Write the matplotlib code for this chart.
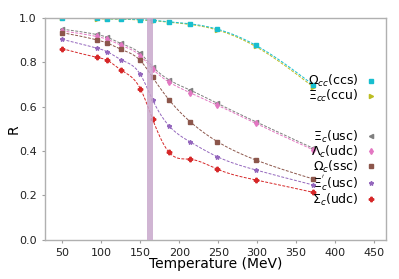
import numpy as np
import matplotlib
matplotlib.use("Agg")
import matplotlib.pyplot as plt
from matplotlib.lines import Line2D

# ---- data ----
temperature = [50, 94, 108, 125, 150, 166, 187, 214, 249, 298, 372]
omega_cc = [0.998, 0.996, 0.995, 0.994, 0.991, 0.988, 0.981, 0.972, 0.948, 0.876, 0.697]
xi_cc    = [0.997, 0.995, 0.994, 0.993, 0.989, 0.986, 0.979, 0.969, 0.944, 0.870, 0.688]
xi_c     = [0.948, 0.924, 0.911, 0.884, 0.839, 0.779, 0.720, 0.674, 0.614, 0.532, 0.412]
lambda_c = [0.940, 0.915, 0.902, 0.876, 0.829, 0.769, 0.710, 0.662, 0.606, 0.524, 0.405]
omega_c  = [0.932, 0.900, 0.885, 0.858, 0.807, 0.731, 0.630, 0.532, 0.442, 0.360, 0.274]
xip_c    = [0.902, 0.863, 0.846, 0.811, 0.745, 0.629, 0.513, 0.441, 0.374, 0.315, 0.247]
sigma_c  = [0.860, 0.822, 0.807, 0.765, 0.681, 0.542, 0.394, 0.363, 0.318, 0.270, 0.214]
band = [159, 166]

labels1 = [r"$\Omega_{cc}$(ccs)", r"$\Xi_{cc}$(ccu)"]
labels2 = [r"$\Xi_c$(usc)", r"$\Lambda_c$(udc)", r"$\Omega_c$(ssc)",
           r"$\Xi^{'}_c$(usc)", r"$\Sigma_c$(udc)"]


def natural_spline(x, y, num=300):
    x = np.asarray(x, float); y = np.asarray(y, float)
    n = len(x)
    h = np.diff(x)
    A = np.zeros((n, n)); b = np.zeros(n)
    A[0, 0] = 1; A[-1, -1] = 1
    for i in range(1, n - 1):
        A[i, i - 1] = h[i - 1]
        A[i, i] = 2 * (h[i - 1] + h[i])
        A[i, i + 1] = h[i]
        b[i] = 6 * ((y[i + 1] - y[i]) / h[i] - (y[i] - y[i - 1]) / h[i - 1])
    M = np.linalg.solve(A, b)
    xs = np.linspace(x[0], x[-1], num)
    idx = np.clip(np.searchsorted(x, xs) - 1, 0, n - 2)
    x0, x1 = x[idx], x[idx + 1]
    hh = x1 - x0
    t0 = x1 - xs; t1 = xs - x0
    ys = (M[idx] * t0**3 + M[idx + 1] * t1**3) / (6 * hh) \
        + (y[idx] / hh - M[idx] * hh / 6) * t0 \
        + (y[idx + 1] / hh - M[idx + 1] * hh / 6) * t1
    return xs, ys


fig = plt.figure(figsize=(3.99, 2.79), dpi=100)
ax = fig.add_axes([0.113, 0.140, 0.854, 0.797])

series = [
    (xi_cc, 'tab:olive', '>', 3.0),
    (omega_cc, 'tab:cyan', 's', 2.6),
    (xi_c, 'tab:gray', '<', 3.0),
    (lambda_c, 'tab:pink', 'd', 3.0),
    (omega_c, 'tab:brown', 's', 2.6),
    (xip_c, 'tab:purple', '*', 3.2),
    (sigma_c, 'tab:red', 'P', 3.2),
]
for vals, col, mk, ms in series:
    xs, ys = natural_spline(temperature, vals)
    ax.plot(xs, ys, color=col, ls='--', lw=0.7, dashes=(3, 1.5))
    ax.plot(temperature, vals, ls='none', marker=mk, color=col, ms=ms)

ax.axvspan(band[0], band[1], facecolor='#c8a8cc', alpha=0.85, hatch='||',
           edgecolor='#d05050', lw=0, zorder=3)

ax.set_xlim(28, 465)
ax.set_ylim(0, 1.0)
ax.set_xticks([50, 100, 150, 200, 250, 300, 350, 400, 450])
ax.set_yticks([0.0, 0.2, 0.4, 0.6, 0.8, 1.0])
ax.tick_params(labelsize=8, color='#a0a0a0', length=2.5, width=0.8, labelcolor='#222222')
for s in ax.spines.values():
    s.set_color('#b0b0b0')
    s.set_linewidth(1.0)
ax.set_xlabel("Temperature (MeV)", fontsize=10, labelpad=-1)
ax.set_ylabel("R", fontsize=10, labelpad=-1)

h1 = [Line2D([], [], ls='none', marker='s', color='tab:cyan', ms=2.6),
      Line2D([], [], ls='none', marker='>', color='tab:olive', ms=3.0)]
h2 = [Line2D([], [], ls='none', marker='<', color='tab:gray', ms=3.0),
      Line2D([], [], ls='none', marker='d', color='tab:pink', ms=3.0),
      Line2D([], [], ls='none', marker='s', color='tab:brown', ms=2.6),
      Line2D([], [], ls='none', marker='*', color='tab:purple', ms=3.2),
      Line2D([], [], ls='none', marker='P', color='tab:red', ms=3.2)]
leg1 = ax.legend(h1, labels1, loc='center right', bbox_to_anchor=(1.0, 0.68),
                 frameon=False, markerfirst=False, fontsize=9, handlelength=1.0,
                 labelspacing=-0.1, handletextpad=0.5, borderaxespad=0.3)
ax.add_artist(leg1)
ax.legend(h2, labels2, loc='center right', bbox_to_anchor=(1.0, 0.322),
          frameon=False, markerfirst=False, fontsize=9, handlelength=1.0,
          labelspacing=-0.1, handletextpad=0.5, borderaxespad=0.3)

fig.savefig("out.png", dpi=100)
